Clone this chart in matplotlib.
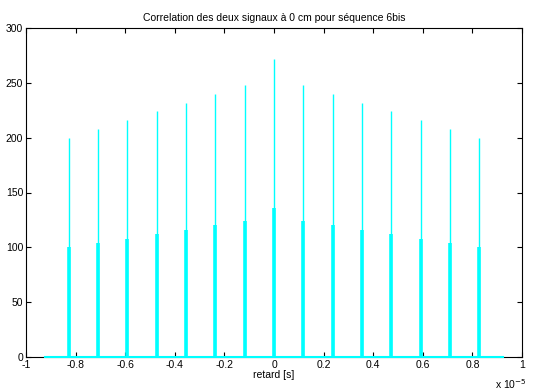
import matplotlib
matplotlib.use("Agg")
import matplotlib.pyplot as plt
import numpy as np

plt.rcParams['font.family'] = ['Liberation Sans', 'DejaVu Sans']

# Data (delay in units of 1e-5 s)
peak_index = [-7, -6, -5, -4, -3, -2, -1, 0, 1, 2, 3, 4, 5, 6, 7]
peak_spacing = 0.1182  # x 1e-5 s
peak_high = [200, 208, 216, 224, 232, 240, 248, 272, 248, 240, 232, 224, 216, 208, 200]
peak_low = [100, 104, 108, 112, 116, 120, 124, 136, 124, 120, 116, 112, 108, 104, 100]
baseline_span = [-0.923, 0.923]
scale = 1e-5

x_peaks = np.array(peak_index) * peak_spacing * scale

fig = plt.figure(figsize=(5.6, 3.92), dpi=100)
ax = fig.add_axes([26/560, 1-357/392, (522-26)/560, (357-28)/392])

col = '#00FFFF'
ax.plot(np.array(baseline_span) * scale, [0, 0], color=col, lw=1.5, clip_on=False, zorder=3)
ax.vlines(x_peaks, 0, peak_high, color=col, lw=1.0, zorder=3)
ax.vlines(x_peaks, 0, peak_low, color=col, lw=2.6, zorder=3)

ax.set_xlim(-1 * scale, 1 * scale)
ax.set_ylim(0, 300)
xt = np.round(np.arange(-1, 1.01, 0.2), 1)
ax.set_xticks(xt * scale)
ax.set_xticklabels([('%g' % v) if v != 0 else '0' for v in xt])
ax.set_yticks(np.arange(0, 301, 50))

ax.tick_params(direction='in', top=True, right=True, length=3.5, width=0.8,
               labelsize=7.5, pad=2)
for s in ax.spines.values():
    s.set_linewidth(0.8)

ax.set_title('Correlation des deux signaux à 0 cm pour séquence 6bis', fontsize=7.5, pad=5)
ax.set_xlabel('retard [s]', fontsize=7.5, labelpad=0)
fig.text(495/560, 1-384/392, 'x 10$^{-5}$', fontsize=7.5, va='center', ha='left')

fig.savefig('out.png', dpi=100)
